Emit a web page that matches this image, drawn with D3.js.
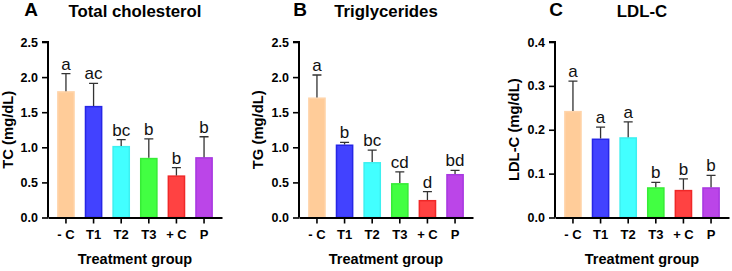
<!DOCTYPE html>
<html>
<head>
<meta charset="utf-8">
<script src="https://cdn.jsdelivr.net/npm/d3@7"></script>
<style>
  body { margin: 0; background: #fff; }
  text { font-family: "Liberation Sans", Arial, sans-serif; }
</style>
</head>
<body>
<div id="chart"></div>
<script>
const groups = ["- C", "T1", "T2", "T3", "+ C", "P"];
const fills = ["#ffcc99", "#4242ff", "#42ffff", "#42ff42", "#ff4242", "#bb45e8"];
const strokes = ["#ffd4aa", "#2626e6", "#3cf0f0", "#36ec36", "#f02828", "#a838e0"];

const tcMean = [1.80, 1.59, 1.02, 0.85, 0.60, 0.86];
const tcSd = [0.25, 0.32, 0.09, 0.27, 0.11, 0.29];
const tcLetters = ["a", "ac", "bc", "b", "b", "b"];

const tgMean = [1.71, 1.04, 0.79, 0.49, 0.25, 0.62];
const tgSd = [0.32, 0.03, 0.17, 0.16, 0.12, 0.05];
const tgLetters = ["a", "b", "bc", "cd", "d", "bd"];

const ldlMean = [0.243, 0.180, 0.183, 0.069, 0.063, 0.069];
const ldlSd = [0.068, 0.026, 0.035, 0.011, 0.025, 0.027];
const ldlLetters = ["a", "a", "a", "b", "b", "b"];

const ticksTG = [0, 0.5, 1.0, 1.5, 2.0, 2.5];
const ticksLDL = [0, 0.1, 0.2, 0.3, 0.4];

const panels = [
  { tag: "A", title: "Total cholesterol", yLabel: "TC (mg/dL)", mean: tcMean, sd: tcSd, letters: tcLetters, ticks: ticksTG, left: 48, tagX: 31, ylabX: 12.5 },
  { tag: "B", title: "Triglycerides", yLabel: "TG (mg/dL)", mean: tgMean, sd: tgSd, letters: tgLetters, ticks: ticksTG, left: 299, tagX: 300, ylabX: 263 },
  { tag: "C", title: "LDL-C", yLabel: "LDL-C (mg/dL)", mean: ldlMean, sd: ldlSd, letters: ldlLetters, ticks: ticksLDL, left: 555, tagX: 556, ylabX: 518.5 }
];

const W = 732, H = 271, plotW = 174, yTop = 42, yBottom = 217.5;

const svg = d3.select("#chart").append("svg")
  .attr("width", W).attr("height", H);

panels.forEach(p => {
  const g = svg.append("g").attr("transform", `translate(${p.left},0)`);

  const x = d3.scaleBand().domain(groups).range([0, plotW])
    .paddingInner(0.36).paddingOuter(0.33);
  const y = d3.scaleLinear().domain([p.ticks[0], p.ticks[p.ticks.length - 1]]).range([yBottom, yTop]);

  const rows = groups.map((k, i) => ({ k, i, m: p.mean[i], s: p.sd[i], l: p.letters[i] }));

  // bars
  g.selectAll(".bar").data(rows).enter().append("rect")
    .attr("x", d => x(d.k) + 0.75)
    .attr("y", d => y(d.m) + 0.75)
    .attr("width", x.bandwidth() - 1.5)
    .attr("height", d => y(0) - y(d.m) - 0.75)
    .attr("fill", d => fills[d.i])
    .attr("stroke", d => strokes[d.i])
    .attr("stroke-width", 1.5);

  // error bars (upper only)
  const cap = 4.5;
  g.selectAll(".err").data(rows).enter().append("path")
    .attr("d", d => {
      const cx = x(d.k) + x.bandwidth() / 2;
      return `M${cx},${y(d.m)}V${y(d.m + d.s)}M${cx - cap},${y(d.m + d.s)}H${cx + cap}`;
    })
    .attr("stroke", "#333").attr("stroke-width", 1.3).attr("fill", "none");

  // significance letters
  g.selectAll(".let").data(rows).enter().append("text")
    .attr("x", d => x(d.k) + x.bandwidth() / 2)
    .attr("y", d => y(d.m + d.s) - 4)
    .attr("text-anchor", "middle")
    .attr("font-size", 17)
    .attr("fill", "#111")
    .text(d => d.l);

  // axes
  const fmt = d3.format(".1f");
  const ya = g.append("g").call(d3.axisLeft(y).tickValues(p.ticks).tickFormat(fmt).tickSize(6).tickPadding(4));
  const xa = g.append("g").attr("transform", `translate(0,${yBottom})`)
    .call(d3.axisBottom(x).tickSize(6).tickPadding(6).tickSizeOuter(0));
  [ya, xa].forEach(a => {
    a.select(".domain").attr("stroke", "#000").attr("stroke-width", 2);
    a.selectAll(".tick line").attr("stroke", "#000").attr("stroke-width", 1.6);
    a.selectAll("text").attr("font-family", "Liberation Sans, Arial, sans-serif")
      .attr("font-weight", "bold").attr("fill", "#000");
  });
  ya.selectAll("text").attr("font-size", 12.5);
  xa.selectAll("text").attr("font-size", 13);
  ya.select(".domain").attr("d", `M-6,${yTop}H0V${yBottom}`);

  // titles
  g.append("text").attr("x", plotW / 2).attr("y", 16.5)
    .attr("text-anchor", "middle").attr("font-size", 16.8).attr("font-weight", "bold")
    .text(p.title);
  svg.append("text").attr("x", p.tagX).attr("y", 15.5)
    .attr("text-anchor", "middle").attr("font-size", 19).attr("font-weight", "bold")
    .text(p.tag);

  // axis titles
  g.append("text").attr("x", plotW / 2).attr("y", 264)
    .attr("text-anchor", "middle").attr("font-size", 14.5).attr("font-weight", "bold")
    .text("Treatment group");
  svg.append("text")
    .attr("transform", `translate(${p.ylabX},${(yTop + yBottom) / 2}) rotate(-90)`)
    .attr("text-anchor", "middle").attr("font-size", 14.8).attr("font-weight", "bold")
    .text(p.yLabel);
});
</script>
</body>
</html>
